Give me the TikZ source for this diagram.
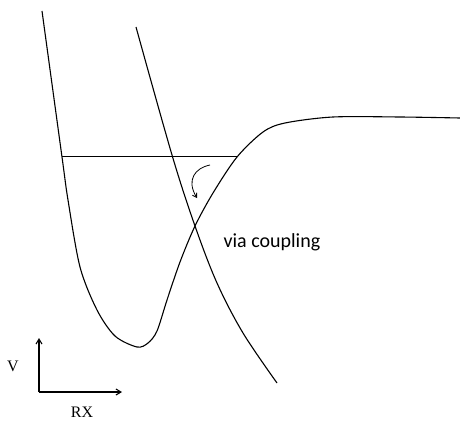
\documentclass[tikz,border=0pt]{standalone}
\usepackage{fontspec}
\setmainfont{Liberation Serif}
\newfontfamily\calibrifont{Carlito}
\usetikzlibrary{arrows.meta,positioning}

\begin{document}
\begin{tikzpicture}[x=1pt,y=-1pt,line width=1.1pt,
    curve/.style={line width=1.1pt},
    axis/.style={line width=1.1pt,-{Straight Barb[length=5pt,width=6pt]}},
    lbl/.style={inner sep=0pt,font=\fontsize{16}{16}\selectfont}]
  \useasboundingbox (0,0) rectangle (460,420);
  % bound state well
  \draw[curve] plot[smooth,tension=0.5] coordinates {(42,11) (62,157) (68,200)
    (80,267) (97,310) (115,336) (137,347) (148,343) (157,331) (167,300)
    (180,262) (195,226) (213,193) (237,157) (263,132) (285,123) (333,117)
    (400,117) (460,118)};
  % repulsive state
  \draw[curve] plot[smooth,tension=0.55] coordinates {(136,27) (172,155)
    (195,226) (217,283) (243,333) (277,383)};
  % level
  \coordinate (lvlA) at (62,156);
  \coordinate (lvlB) at (237,156);
  \draw[line width=1pt] (lvlA) -- (lvlB);
  % crossing arrow
  \coordinate (hopA) at (210,165);
  \coordinate (hopB) at (197,198);
  \draw[line width=0.8pt,-{Straight Barb[length=4pt,width=5pt]}] (hopA)
    .. controls (195,168) and (186,180) .. (hopB);
  \node[lbl,anchor=base west,font=\calibrifont\fontsize{20}{20}\selectfont] (via) at (223,247) {via coupling};
  % axes
  \coordinate (o) at (39,392);
  \coordinate (vtop) at (39,338);
  \coordinate (rend) at (122,392);
  \draw[axis] (o) -- (vtop);
  \draw[axis] (o) -- (rend);
  \node[lbl,anchor=base] (v) at (13,371) {V};
  \node[lbl,anchor=base] (rx) at (82,417) {RX};
\end{tikzpicture}
\end{document}
